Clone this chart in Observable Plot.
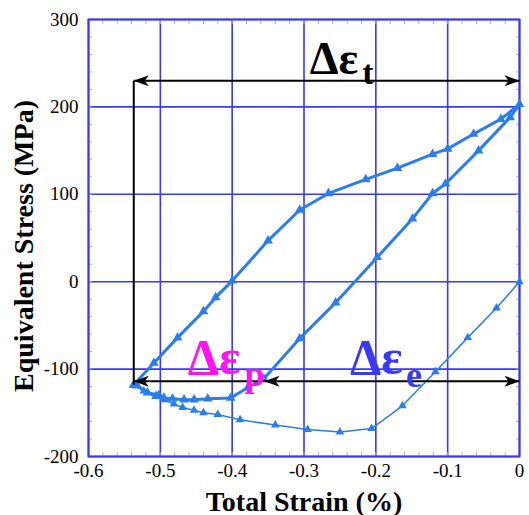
<!DOCTYPE html>
<html>
<head>
<meta charset="utf-8">
<script src="https://cdn.jsdelivr.net/npm/d3@7"></script>
<script src="https://cdn.jsdelivr.net/npm/@observablehq/plot@0.6"></script>
<style>
  html, body { margin: 0; padding: 0; background: #ffffff; }
  #chart svg { display: block; }
</style>
</head>
<body>
<div id="chart"></div>
<script>
// ---- data ----
// first (initial) loading branch, thin line
const initStrain = [0, -0.032, -0.072, -0.117, -0.163, -0.206, -0.25, -0.295, -0.34, -0.389, -0.42, -0.44, -0.453, -0.469, -0.481, -0.495, -0.502, -0.523, -0.537];
const initStress = [0, -30, -64, -103, -142, -168, -172, -169, -164, -158, -152, -150, -147, -144, -140, -135, -129, -125, -118];
// stabilised hysteresis loop, thick line
const loopStrain = [-0.537, -0.509, -0.476, -0.44, -0.423, -0.4, -0.35, -0.306, -0.266, -0.214, -0.17, -0.121, -0.1, -0.064, -0.026, 0, -0.013, -0.057, -0.103, -0.121, -0.149, -0.198, -0.256, -0.306, -0.356, -0.378, -0.402, -0.434, -0.453, -0.467, -0.483, -0.495, -0.506, -0.518, -0.532, -0.537];
const loopStress = [-118, -93, -64, -34, -18, 1, 47, 82, 101, 117, 130, 146, 152, 169, 186, 203, 188, 150, 112, 101, 72, 28, -24, -65, -111, -121, -133, -134, -135, -135, -134, -133, -131, -127, -119, -118];

// tick values
const xTicks = [-0.6, -0.5, -0.4, -0.3, -0.2, -0.1, 0];
const yTicks = [-200, -100, 0, 100, 200, 300];
const xMinor = d3.range(-30, 1).map(i => i * 0.02);
const yMinor = d3.range(-10, 16).map(i => i * 20);

// annotation geometry (data space)
const dimX1 = [-0.537, -0.537, -0.537];
const dimX2 = [0, 0, -0.537];
const dimY1 = [230, -114, 230];
const dimY2 = [230, -114, -118];
const headX = [-0.537, 0, -0.537, -0.355, 0];
const headY = [230, 230, -114, -114, -114];
const headRot = [180, 0, 180, 180, 0];

const symMain = ["Δε", "Δε", "Δε"];
const symSub = ["t", "p", "e"];
const symColor = ["#000000", "#ff14f0", "#3a3af2"];
const mainX = [-0.292, -0.462, -0.236];
const mainY = [238, -106, -106];
const subX = [-0.219, -0.383, -0.158];
const subY = [226, -119, -120];
const mainSize = [46, 50, 50];
const subSize = [34, 36, 36];

// ---- build tables ----
const initData = initStrain.map((x, i) => ({x, y: initStress[i]}));
const loopData = loopStrain.map((x, i) => ({x, y: loopStress[i]}));
const dims = dimX1.map((x1, i) => ({x1, x2: dimX2[i], y1: dimY1[i], y2: dimY2[i]}));
const heads = headX.map((x, i) => ({x, y: headY[i], r: headRot[i]}));
const labels = symMain.map((t, i) => ({t, s: symSub[i], c: symColor[i], x: mainX[i], y: mainY[i], sx: subX[i], sy: subY[i], fs: mainSize[i], ss: subSize[i]}));

const arrowHead = {
  draw(ctx) {
    const L = 15, W = 5.5, N = 4;
    ctx.moveTo(0, 0);
    ctx.lineTo(-L, -W);
    ctx.lineTo(-L + N, 0);
    ctx.lineTo(-L, W);
    ctx.closePath();
  }
};

const lineBlue = "#2b7de9";
const gridBlue = "#3838ee";
const serif = "Liberation Serif, Times New Roman, serif";

const marks = [
  Plot.gridX(xTicks, {stroke: gridBlue, strokeOpacity: 1, strokeWidth: 1.6}),
  Plot.gridY(yTicks, {stroke: gridBlue, strokeOpacity: 1, strokeWidth: 1.6}),
  // minor inner ticks
  Plot.axisX({anchor: "bottom", ticks: xMinor, tickSize: -4, tickFormat: () => "", label: null, stroke: "#b0b0b0"}),
  Plot.axisX({anchor: "top", ticks: xMinor, tickSize: -4, tickFormat: () => "", label: null, stroke: "#b0b0b0"}),
  Plot.axisY({anchor: "left", ticks: yMinor, tickSize: -4, tickFormat: () => "", label: null, stroke: "#b0b0b0"}),
  Plot.axisY({anchor: "right", ticks: yMinor, tickSize: -4, tickFormat: () => "", label: null, stroke: "#b0b0b0"}),
  // main axes
  Plot.axisX({anchor: "bottom", ticks: xTicks, tickSize: 0, tickPadding: 7, tickFormat: d => d === 0 ? "0" : d3.format(".1f")(d).replace("−", "-"),
    fontSize: 19, fontFamily: serif, label: "Total Strain (%)", labelAnchor: "center", labelArrow: "none", labelOffset: 54}),
  Plot.axisY({anchor: "left", ticks: yTicks, tickSize: 0, tickPadding: 10, tickFormat: d => String(d),
    fontSize: 19, fontFamily: serif, label: "Equivalent Stress (MPa)", labelAnchor: "center", labelArrow: "none", labelOffset: 75}),
  Plot.frame({stroke: gridBlue, strokeWidth: 2}),
  // data
  Plot.line(initData, {x: "x", y: "y", stroke: lineBlue, strokeWidth: 1.5}),
  Plot.dot(initData, {x: "x", y: "y", symbol: "triangle", r: 3.2, fill: lineBlue}),
  Plot.line(loopData, {x: "x", y: "y", stroke: lineBlue, strokeWidth: 3}),
  Plot.dot(loopData, {x: "x", y: "y", symbol: "triangle", r: 3.6, fill: lineBlue}),
  // dimension lines
  Plot.link(dims, {x1: "x1", x2: "x2", y1: "y1", y2: "y2", stroke: "black", strokeWidth: 2}),
  Plot.dot(heads, {x: "x", y: "y", rotate: "r", symbol: arrowHead, fill: "black", r: 5}),
  // labels
  Plot.text(labels, {x: "x", y: "y", text: "t", fill: "c", fontSize: d => d.fs, textAnchor: "start", lineAnchor: "bottom", fontFamily: serif, fontWeight: "bold"}),
  Plot.text(labels, {x: "sx", y: "sy", text: "s", fill: "c", fontSize: d => d.ss, textAnchor: "start", lineAnchor: "bottom", fontFamily: serif, fontWeight: "bold"})
];

const chart = Plot.plot({
  width: 529,
  height: 515,
  marginLeft: 88,
  marginRight: 10,
  marginTop: 19,
  marginBottom: 59,
  style: {fontFamily: serif, background: "#ffffff", color: "black", overflow: "visible"},
  x: {domain: [-0.6, 0]},
  y: {domain: [-200, 300]},
  marks
});
chart.querySelectorAll("[aria-label='x-axis label'] text").forEach(t => {
  t.setAttribute("font-size", 28);
  t.setAttribute("font-weight", "bold");
});
chart.querySelectorAll("[aria-label='y-axis label'] text").forEach(t => {
  t.setAttribute("font-size", 28);
  t.setAttribute("font-weight", "bold");
  t.setAttribute("transform", (t.getAttribute("transform") || "") + " translate(-8,0)");
});
document.getElementById("chart").appendChild(chart);
</script>
</body>
</html>
